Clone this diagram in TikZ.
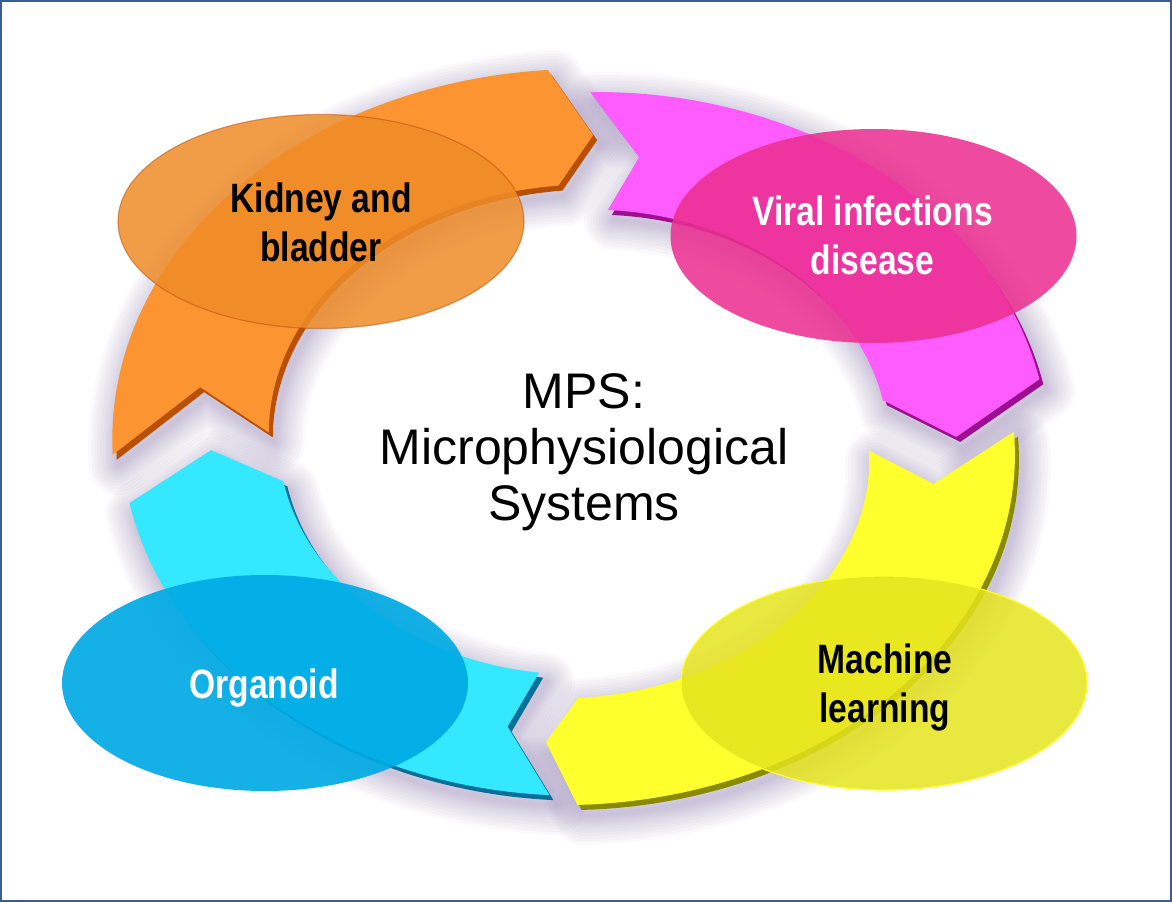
\documentclass[tikz,border=0pt]{standalone}
\usepackage{fontspec}
\setmainfont{Liberation Sans}
\newfontfamily\labelfont[FakeStretch=0.82]{Liberation Sans}
\usetikzlibrary{shapes.geometric}
\definecolor{orA}{HTML}{FC9432}\definecolor{orD}{HTML}{B85008}
\definecolor{mgA}{HTML}{FF5CFF}\definecolor{mgD}{HTML}{9C1090}
\definecolor{ylA}{HTML}{FFFF2E}\definecolor{ylD}{HTML}{8A8A00}
\definecolor{cyA}{HTML}{33E8FF}\definecolor{cyD}{HTML}{087098}
\definecolor{orE}{HTML}{EF8C28}\definecolor{mgE}{HTML}{EC3091}
\definecolor{ylE}{HTML}{E6E41E}\definecolor{cyE}{HTML}{00AAE4}
\definecolor{haloC}{HTML}{8E7AB0}
\definecolor{frameC}{HTML}{3B5E8E}
\def\sx{1.27}
% #1 tail angle, #2 notch angle, #3 head base angle, #4 tip angle,
% #5 tail outer r, #6 tail inner r, #7 head outer r, #8 head inner r
\newcommand\ringPath[8]{%
 plot[domain=0:1,samples=60,variable=\t]
   ({\sx*((#5)+((#7)-(#5))*\t)*cos((#1)+2+((#3)-(#1)-2)*\t)},
    {((#5)+((#7)-(#5))*\t)*sin((#1)+2+((#3)-(#1)-2)*\t)})
 -- ({\sx*(((#7)+(#8))/2-8)*cos(#4)},{(((#7)+(#8))/2-8)*sin(#4)})
 -- plot[domain=0:1,samples=60,variable=\t]
   ({\sx*((#8)+((#6)-(#8))*\t)*cos((#3)+((#1)-2-(#3))*\t)},
    {((#8)+((#6)-(#8))*\t)*sin((#3)+((#1)-2-(#3))*\t)})
 -- ({\sx*(((#5)+(#6))/2-3)*cos(#2)},{(((#5)+(#6))/2-3)*sin(#2)})
 -- cycle}
\def\orP{\ringPath{180.3}{170}{94}{88.2}{369}{246}{371}{255}}
\def\mgP{\ringPath{86.8}{80.8}{9.5}{0.6}{348}{231}{366}{241}}
\def\ylP{\ringPath{-0.6}{-9}{-90.5}{-95.2}{341}{227}{365}{258}}
\def\cyP{\ringPath{-96}{-101.4}{-170}{-178}{356}{235}{361}{238}}
\tikzset{
  halo/.style={draw=haloC,line join=round,draw opacity=0.045},
  blob/.style={ellipse,inner sep=0pt,minimum width=203pt,minimum height=107pt,line width=0.6pt},
  lbl/.style={align=center,font=\labelfont\bfseries\fontsize{20.5}{24.5}\selectfont},
}
\begin{document}
\begin{tikzpicture}[x=0.5pt,y=0.5pt]
\useasboundingbox (0,0) rectangle (1172,902);
\fill[white] (0,0) rectangle (1172,902);
% ring
\begin{scope}[shift={(587,452)}]
  \foreach \w in {30,27,24,21,18,15,12.5,10,8,6,4,2}{
    \draw[halo,line width=\w pt] \orP;
    \draw[halo,line width=\w pt] \mgP;
    \draw[halo,line width=\w pt] \ylP;
    \draw[halo,line width=\w pt] \cyP;
  }
\end{scope}
\begin{scope}[shift={(585,457)}]
  \fill[orD] \orP; \fill[orA,shift={(-4,5)}] \orP;
  \fill[mgD] \mgP; \fill[mgA,shift={(-4,5)}] \mgP;
  \fill[ylD] \ylP; \fill[ylA,shift={(-4,5)}] \ylP;
  \fill[cyD] \cyP; \fill[cyA,shift={(-4,5)}] \cyP;
\end{scope}
% ellipses
\node[blob,fill=orE,fill opacity=0.85,draw=orD,draw opacity=0.5] (kidE) at (321,680.5) {};
\node[blob,fill=mgE,fill opacity=0.87] (virE) at (873.5,666) {};
\node[blob,fill=ylE,fill opacity=0.85,draw=ylA] (macE) at (884,219) {};
\node[blob,fill=cyE,fill opacity=0.92,minimum height=108pt] (orgE) at (265,219) {};
% labels
\node[lbl,text=black] (kidT) at (321,679.5) {Kidney and\\bladder};
\node[lbl,text=white] (virT) at (872.5,666.2) {Viral infections\\disease};
\node[lbl,text=black] (macT) at (885,215) {Machine\\learning};
\node[lbl,text=white] (orgT) at (264,214) {Organoid};
\node[align=center,font=\fontsize{25}{28}\selectfont] (mps) at (584,450) {MPS:\\Microphysiological\\Systems};
% frame
\draw[frameC,line width=1pt] (1,1) rectangle (1171,901);
\end{tikzpicture}
\end{document}
